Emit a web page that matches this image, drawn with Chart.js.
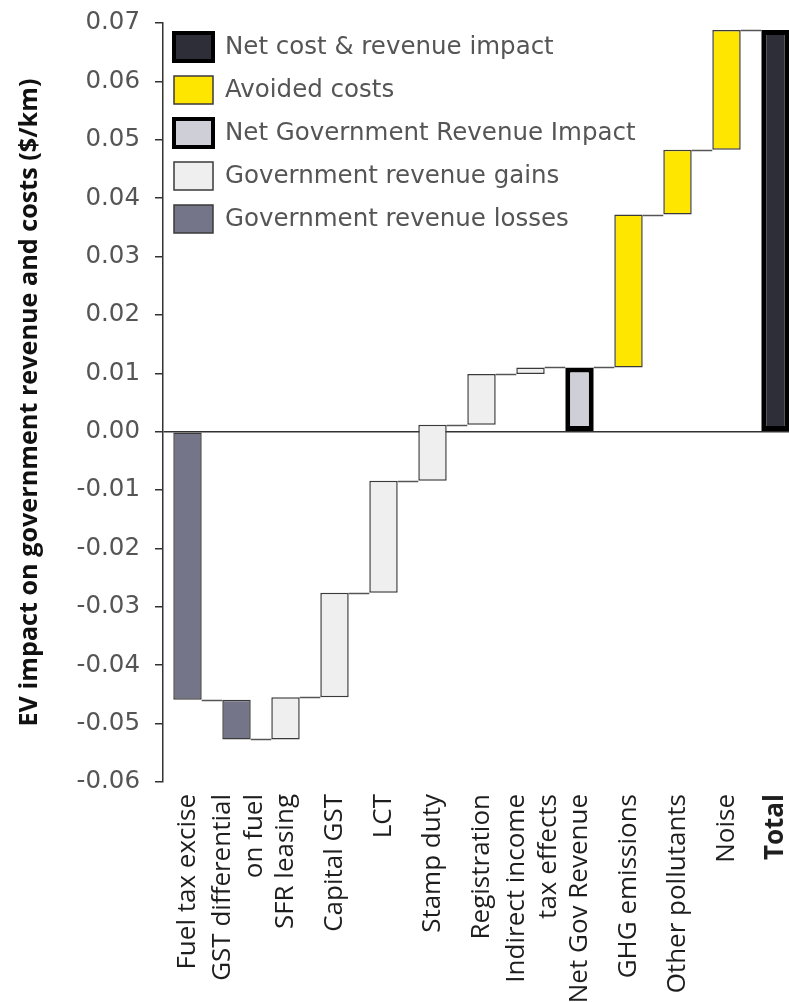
<!DOCTYPE html>
<html>
<head>
<meta charset="utf-8">
<script src="https://cdn.jsdelivr.net/npm/chart.js@4/dist/chart.umd.min.js"></script>
<style>
  html, body { margin: 0; padding: 0; background: #fff; overflow: hidden; }
  #waterfall { position: absolute; left: 0; top: 0; }
</style>
</head>
<body>
<canvas id="waterfall" width="802" height="1040"></canvas>
<script>
// categories (multi-line labels as arrays)
const categories = [
    "Fuel tax excise",
    ["GST differential", "on fuel"],
    "SFR leasing",
    "Capital GST",
    "LCT",
    "Stamp duty",
    "Registration",
    ["Indirect income", "tax effects"],
    "Net Gov Revenue",
    "GHG emissions",
    "Other pollutants",
    "Noise",
    "Total"
];

// waterfall bar bottoms / tops ($/km)
const barStart = [0, -0.0459, -0.0527, -0.0455, -0.0276, -0.0084, 0.0012, 0.0099, 0, 0.0110, 0.0372, 0.0483, 0];
const barEnd   = [-0.0459, -0.0527, -0.0455, -0.0276, -0.0084, 0.0012, 0.0099, 0.0110, 0.0110, 0.0372, 0.0483, 0.0688, 0.0688];
const barKind  = ["loss", "loss", "gain", "gain", "gain", "gain", "gain", "gain", "netGov", "avoided", "avoided", "avoided", "total"];

const yTicks = { min: -0.06, max: 0.07, step: 0.01 };

const legendItems = [
    { kind: "total", text: "Net cost & revenue impact" },
    { kind: "avoided", text: "Avoided costs" },
    { kind: "netGov", text: "Net Government Revenue Impact" },
    { kind: "gain", text: "Government revenue gains" },
    { kind: "loss", text: "Government revenue losses" }
];

// styles per kind
const kindStyle = {
    total:   { fill: "#2e2e38", border: "#000000", width: 5 },
    avoided: { fill: "#ffe600", border: "#3a3a3a", width: 1.5 },
    netGov:  { fill: "#cfcfd8", border: "#000000", width: 5 },
    gain:    { fill: "#efefef", border: "#3a3a3a", width: 1.5 },
    loss:    { fill: "#757589", border: "#3a3a3a", width: 1.5 }
};

const connectorPlugin = {
    id: "connectors",
    beforeDatasetsDraw(chart) {
        const meta = chart.getDatasetMeta(0);
        const y = chart.scales.y;
        const ctx = chart.ctx;
        ctx.save();
        ctx.strokeStyle = "#555";
        ctx.lineWidth = 1.5;
        for (let i = 0; i < meta.data.length - 1; i++) {
            const a = meta.data[i], b = meta.data[i + 1];
            const py = Math.round(y.getPixelForValue(barEnd[i])) + 0.5;
            ctx.beginPath();
            ctx.moveTo(a.x + a.width / 2, py);
            ctx.lineTo(b.x - b.width / 2, py);
            ctx.stroke();
        }
        ctx.restore();
    }
};

// rotated 2-line tick labels: centre the pair of lines on the bar
const centerLinesPlugin = {
    id: "centerLines",
    beforeDraw(chart) {
        const items = chart.scales.x.getLabelItems();
        items.forEach(it => {
            if (Array.isArray(it.label) && !it._centred) {
                it.options.translation[0] -= 14;
                it._centred = true;
            }
        });
    }
};

const legendPlugin = {
    id: "boxLegend",
    afterDraw(chart) {
        const ctx = chart.ctx;
        const left = chart.chartArea.left + 11;
        let cy = 47;
        ctx.save();
        ctx.font = "24.5px 'DejaVu Sans'";
        ctx.textBaseline = "middle";
        legendItems.forEach(item => {
            const s = kindStyle[item.kind];
            const w = 39, h = 28;
            ctx.fillStyle = s.border;
            const bw = s.width > 2 ? 4 : 1.5;
            ctx.fillRect(left - bw / 2, cy - h / 2 - bw / 2, w + bw, h + bw);
            ctx.fillStyle = s.fill;
            ctx.fillRect(left + bw / 2, cy - h / 2 + bw / 2, w - bw, h - bw);
            ctx.fillStyle = "#555";
            ctx.fillText(item.text, left + 51, cy + 1);
            cy += 43;
        });
        ctx.restore();
    }
};

new Chart(document.getElementById("waterfall"), {
    type: "bar",
    data: {
        labels: categories,
        datasets: [{
            data: barStart.map((s, i) => [s, barEnd[i]]),
            backgroundColor: barKind.map(k => kindStyle[k].fill),
            borderColor: barKind.map(k => kindStyle[k].border),
            borderWidth: barKind.map(k => kindStyle[k].width),
            borderSkipped: false,
            barPercentage: 0.58,
            categoryPercentage: 1
        }]
    },
    options: {
        responsive: false,
        animation: false,
        layout: { padding: { left: 0, right: 2, top: 23, bottom: 0 } },
        plugins: {
            legend: { display: false },
            tooltip: { enabled: false }
        },
        scales: {
            x: {
                grid: { display: false },
                border: { display: false },
                afterFit: s => {
                    s.height = 258;
                    s.paddingLeft = 0;
                    s.paddingRight = 0;
                },
                ticks: {
                    autoSkip: false,
                    minRotation: 90,
                    maxRotation: 90,
                    padding: 4,
                    color: "#1e1e1e",
                    font: c => ({
                        family: "'Open Sans'",
                        size: 26,
                        lineHeight: 1.22,
                        weight: c.index === 12 ? "bold" : "normal"
                    })
                }
            },
            y: {
                min: yTicks.min,
                max: yTicks.max,
                afterFit: s => {
                    s.width = 163;
                    s.paddingTop = 0;
                    s.paddingBottom = 0;
                },
                border: { display: true, color: "#333", width: 1.5 },
                grid: {
                    color: c => Math.abs(c.tick.value) < 1e-9 ? "#333" : "rgba(0,0,0,0)",
                    lineWidth: 1.5,
                    tickColor: "#333",
                    tickLength: 8,
                    drawOnChartArea: true
                },
                ticks: {
                    stepSize: yTicks.step,
                    padding: 15,
                    color: "#555",
                    font: { family: "'DejaVu Sans'", size: 24.5 },
                    callback: v => Number(v).toFixed(2)
                },
                title: {
                    display: true,
                    text: "EV impact on government revenue and costs ($/km)",
                    color: "#111",
                    font: { family: "'Open Sans'", size: 25.2, weight: "bold" },
                    padding: { top: 15, bottom: 0 }
                }
            }
        }
    },
    plugins: [connectorPlugin, centerLinesPlugin, legendPlugin]
});
</script>
</body>
</html>
